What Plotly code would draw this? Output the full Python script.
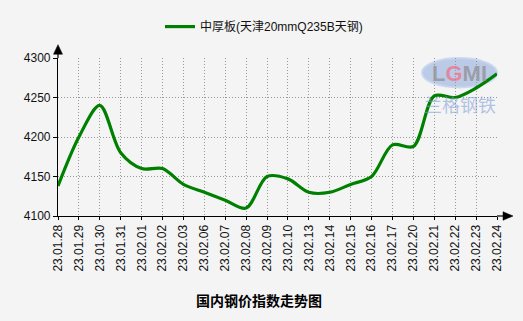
import plotly.graph_objects as go

categories = ["23.01.28", "23.01.29", "23.01.30", "23.01.31", "23.02.01", "23.02.02",
              "23.02.03", "23.02.06", "23.02.07", "23.02.08", "23.02.09", "23.02.10",
              "23.02.13", "23.02.14", "23.02.15", "23.02.16", "23.02.17", "23.02.20",
              "23.02.21", "23.02.22", "23.02.23", "23.02.24"]
values = [4138, 4200, 4240, 4180, 4160, 4160, 4140, 4130, 4120, 4110, 4150, 4147,
          4130, 4130, 4140, 4150, 4190, 4188, 4252, 4250, 4262, 4280]
series_name = "中厚板(天津20mmQ235B天钢)"
y_ticks = [4100, 4150, 4200, 4250, 4300]
chart_title = "国内钢价指数走势图"

W, H = 523, 321
L, R, T, B = 58, 497, 50, 216
pw, ph = R - L, B - T


def px(p):
    return (p - L) / pw


def py(p):
    return (B - p) / ph


FONT = "Liberation Sans, Arial, Noto Sans CJK SC, sans-serif"

fig = go.Figure()
fig.add_trace(go.Scatter(
    x=categories, y=values, mode="lines", name=series_name,
    line=dict(color="#008000", width=3.2, shape="spline", smoothing=0.9),
    showlegend=True,
))

shapes = [
    # watermark ellipse
    dict(type="circle", xref="paper", yref="paper", layer="below",
         x0=px(422), x1=px(497), y0=py(50), y1=py(81),
         fillcolor="rgba(140,170,220,0.55)", line=dict(color="rgba(200,215,240,0.9)", width=2)),
    # x axis extension + arrow
    dict(type="line", xref="paper", yref="paper", x0=1, x1=px(504), y0=0, y1=0,
         line=dict(color="black", width=1.2)),
    dict(type="path", xref="paper", yref="paper",
         path=f"M {px(503)},{py(211.5)} L {px(513)},{py(216)} L {px(503)},{py(220.5)} Z",
         fillcolor="black", line=dict(color="black", width=0.5)),
    # y axis extension + arrow
    dict(type="line", xref="paper", yref="paper", x0=0, x1=0, y0=1, y1=py(45),
         line=dict(color="black", width=1.2)),
    dict(type="path", xref="paper", yref="paper",
         path=f"M {px(53.5)},{py(46)} L {px(58)},{py(36)} L {px(62.5)},{py(46)} Z",
         fillcolor="black", line=dict(color="black", width=0.5)),
]

annotations = [
    dict(text=f"<b>{chart_title}</b>", xref="paper", yref="paper",
         x=px(259), y=py(304), xanchor="center", yanchor="middle", showarrow=False,
         font=dict(size=14, color="black", family="Noto Sans CJK SC, sans-serif")),
    # watermark
    dict(text="<b>L<span style='color:rgba(240,110,130,0.85)'>G</span>MI</b>",
         xref="paper", yref="paper", x=px(459), y=py(66),
         xanchor="center", yanchor="middle", showarrow=False,
         font=dict(size=22, color="rgba(150,150,155,0.85)", family="Liberation Sans, Arial")),
    dict(text="兰格钢铁", xref="paper", yref="paper", x=px(460), y=py(98),
         xanchor="center", yanchor="middle", showarrow=False,
         font=dict(size=18, color="rgba(130,160,215,0.6)", family="Noto Sans CJK SC")),
]

fig.update_layout(
    width=W, height=H,
    margin=dict(l=L, r=W - R, t=T, b=H - B, pad=0),
    paper_bgcolor="#f4f4f4", plot_bgcolor="#f4f4f4",
    font=dict(family=FONT, size=12, color="#111111"),
    showlegend=True,
    legend=dict(orientation="h", x=px(160), xanchor="left", y=py(17), yanchor="middle",
                bgcolor="rgba(0,0,0,0)", itemwidth=30,
                font=dict(size=12, family=FONT, color="#111111")),
    shapes=shapes, annotations=annotations,
)
fig.update_xaxes(
    type="category", range=[0, len(categories) - 1], tickangle=-90,
    showgrid=True, gridcolor="#999999", griddash="1px,2px", gridwidth=1,
    showline=True, linecolor="black", linewidth=1.2,
    ticks="outside", ticklen=3, tickcolor="black",
    tickfont=dict(size=12, family=FONT, color="#111111"), zeroline=False,
)
fig.update_yaxes(
    range=[4100, 4300], tickvals=y_ticks, ticktext=[str(v) for v in y_ticks],
    showgrid=True, gridcolor="#999999", griddash="1px,2px", gridwidth=1,
    showline=True, linecolor="black", linewidth=1.2,
    ticks="outside", ticklen=4, tickcolor="black",
    tickfont=dict(size=12, family=FONT, color="#111111"), zeroline=False,
)

fig.write_html("out.html")
